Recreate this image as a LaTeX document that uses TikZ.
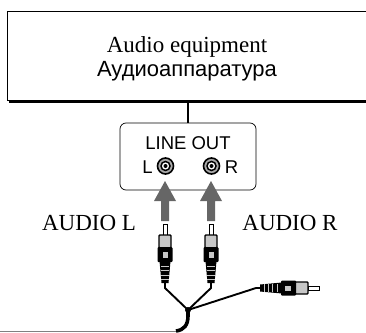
\documentclass[tikz,border=0pt]{standalone}
\usepackage{fontspec}
\setmainfont{Liberation Serif}
\newfontfamily\sansf{Liberation Sans}
\definecolor{bodygrey}{gray}{0.78}
\definecolor{arrowgrey}{gray}{0.4}
\tikzset{
  serif label/.style={font=\fontsize{23}{26}\selectfont, inner sep=0pt, anchor=base},
  sans label/.style={font=\sansf\fontsize{22}{26}\selectfont, inner sep=0pt, anchor=base},
  panel label/.style={font=\sansf\fontsize{18.5}{22}\selectfont, inner sep=0pt, anchor=base},
  flow/.style={fill=arrowgrey, draw=none},
  plug/.pic={
    % axis points up, origin at the tip top
    \draw[line width=.9pt, fill=white] (-2,0) -- (-2,11) -- (2,11) -- (2,0) -- cycle;
    \draw[line width=1.4pt, fill=bodygrey, rounded corners=.8pt] (-6,11) rectangle (6,24);
    \fill[black, rounded corners=1pt] (-7.5,23) rectangle (7.5,38);
    \fill[bodygrey] (-2.5,28) rectangle (2.5,34);
    \fill[black] (-5.5,37) -- (5.5,37) -- (3.5,59) -- (-3.5,59) -- cycle;
    \foreach \yy in {42,46.5,51,55}
      \draw[bodygrey, line width=.9pt] (-3.7,\yy) -- (3.7,\yy);
  }
}
\begin{document}
\begin{tikzpicture}[x=1pt,y=-1pt]
\useasboundingbox (0,0) rectangle (366,332);
% equipment box
\draw[line width=1pt] (366,11) -- (7,11) -- (7,100) -- (366,100);
\draw[line width=2.4pt] (9,102) -- (366,102);
\node[serif label] (eqA) at (187,52) {Audio equipment};
\node[sans label] (eqB) at (187,76) {Аудиоаппаратура};
\coordinate (eqbot) at (188,102);
% line-out panel
\node[draw, line width=.7pt, rounded corners=6pt, minimum width=136pt, minimum height=67pt, inner sep=0pt] (panel) at (188,156.5) {};
\draw[line width=2pt] (eqbot) -- (panel.north);
\node[panel label] (lo) at (188,149) {LINE OUT};
\node[panel label] (ll) at (147.5,173) {L};
\node[panel label] (rr) at (231.5,173) {R};
% jacks
\foreach \n/\x in {jl/165.5,jr/211.5}{
  \node[circle, draw, line width=1.6pt, fill=bodygrey!60!gray, minimum size=16pt, inner sep=0pt] (\n) at (\x,166) {};
  \node[circle, draw, line width=1.5pt, fill=white, minimum size=9pt, inner sep=0pt] at (\n) {};
  \node[circle, fill=black, minimum size=4pt, inner sep=0pt] at (\n) {};
}
% flow arrows
\foreach \x in {165,211}
  \path[flow] (\x,181) -- (\x+11,201) -- (\x+4,201) -- (\x+4,221) -- (\x-4,221) -- (\x-4,201) -- (\x-11,201) -- cycle;
\node[serif label] (al) at (89,230) {AUDIO L};
\node[serif label] (ar) at (290,230) {AUDIO R};
% plugs
\pic at (165,224) {plug};
\pic at (211,224) {plug};
\pic[rotate=-90] at (319,288) {plug};
% cables
\coordinate (hub) at (188,310);
\draw[line width=1.9pt] (165,282) -- (165,288) -- (hub);
\draw[line width=1.9pt] (211,282) -- (211,288) -- (hub);
\draw[line width=1.9pt] (hub) -- (256,288) -- (261,288);
\draw[line width=3.6pt] (hub) -- (188,316) .. controls (188,325) and (184,330) .. (176,331);
\draw[line width=.8pt, gray] (0,331.5) -- (176,331.5);
\fill (hub) circle (3pt);
\end{tikzpicture}
\end{document}
